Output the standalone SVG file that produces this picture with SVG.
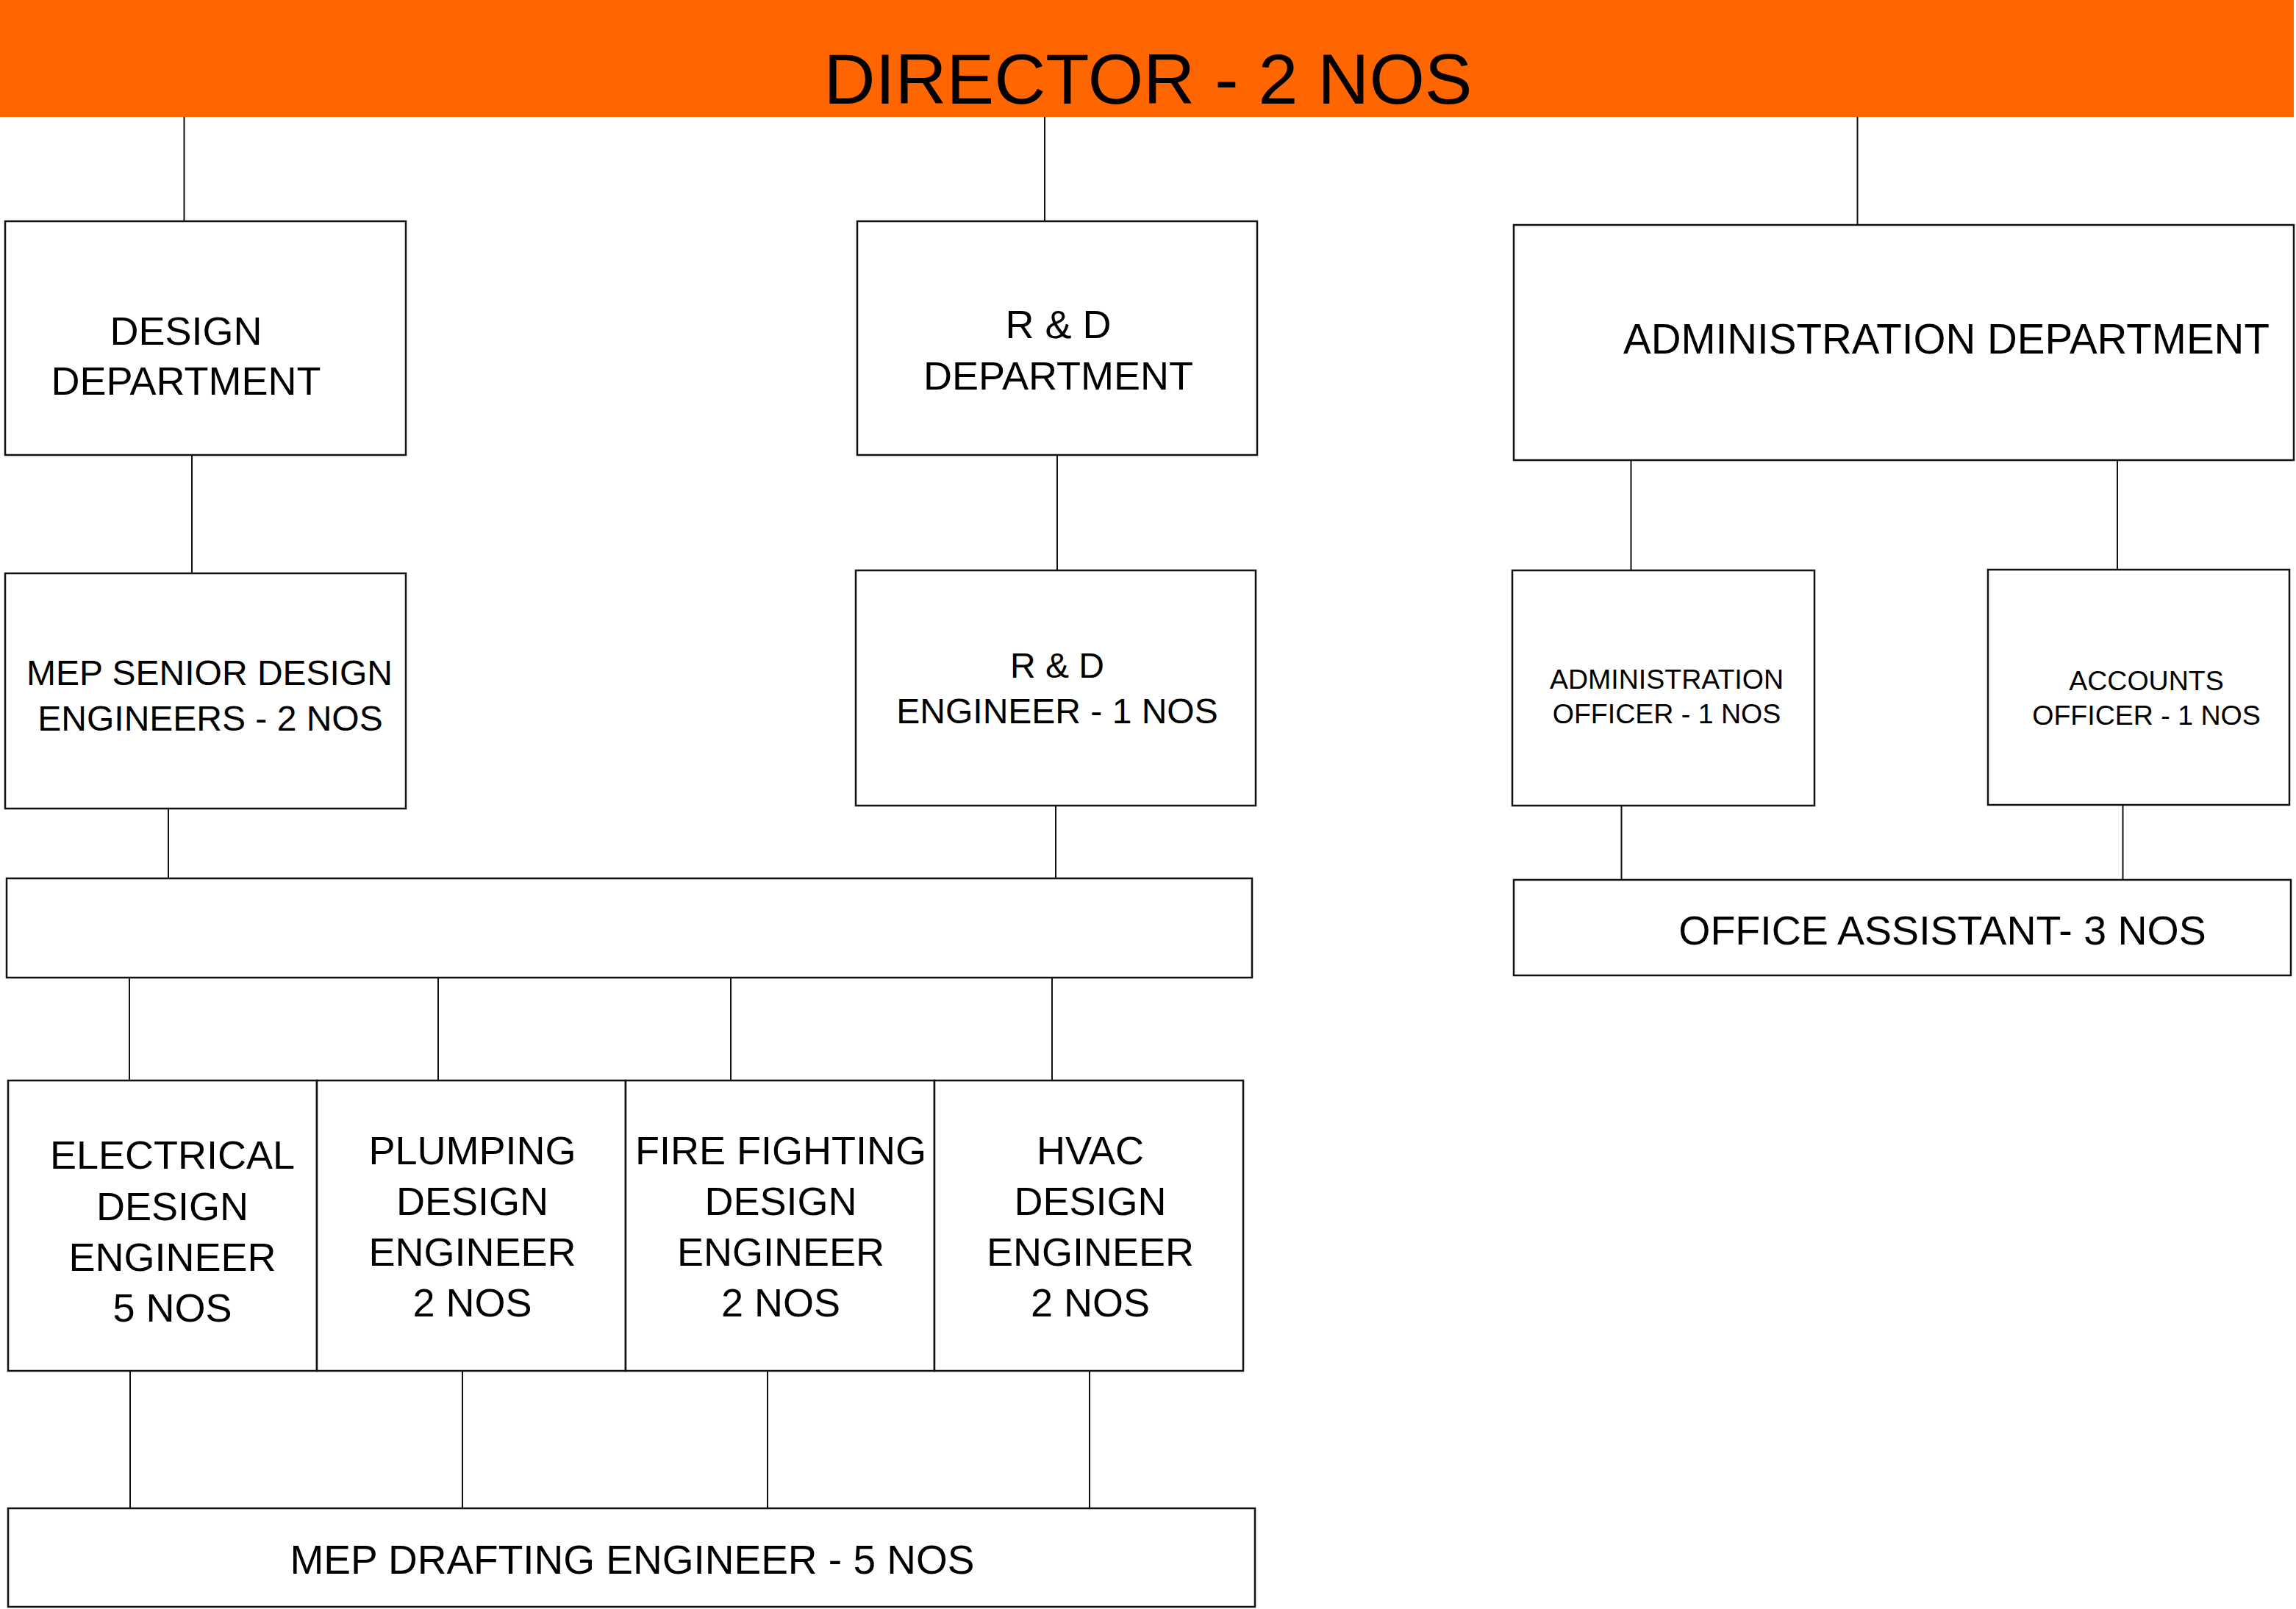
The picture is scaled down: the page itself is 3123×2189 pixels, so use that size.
<svg xmlns="http://www.w3.org/2000/svg" width="3123" height="2189" viewBox="0 0 3123 2189">
<style>
.box{fill:#fff;stroke:#111;stroke-width:2.5}
.ln{stroke:#111;stroke-width:2;fill:none}
text{font-family:"Liberation Sans",Arial,sans-serif;fill:#000;text-anchor:middle}
.t54{font-size:54px}
.t48{font-size:48px}
.t37{font-size:37.5px}
</style>
<rect width="3123" height="2189" fill="#fff"/>
<g id="connectors">
<line class="ln" x1="250.5" y1="159" x2="250.5" y2="301"/>
<line class="ln" x1="1421" y1="159" x2="1421" y2="301"/>
<line class="ln" x1="2526.5" y1="159" x2="2526.5" y2="306"/>
<line class="ln" x1="261" y1="619" x2="261" y2="780"/>
<line class="ln" x1="1438" y1="619" x2="1438" y2="776"/>
<line class="ln" x1="2218.5" y1="626" x2="2218.5" y2="776"/>
<line class="ln" x1="2880" y1="626" x2="2880" y2="775"/>
<line class="ln" x1="229" y1="1100" x2="229" y2="1195"/>
<line class="ln" x1="1436" y1="1096" x2="1436" y2="1195"/>
<line class="ln" x1="2205.5" y1="1096" x2="2205.5" y2="1197"/>
<line class="ln" x1="2887.5" y1="1095" x2="2887.5" y2="1197"/>
<line class="ln" x1="176" y1="1330" x2="176" y2="1470"/>
<line class="ln" x1="596" y1="1330" x2="596" y2="1470"/>
<line class="ln" x1="994" y1="1330" x2="994" y2="1470"/>
<line class="ln" x1="1431" y1="1330" x2="1431" y2="1470"/>
<line class="ln" x1="177" y1="1865" x2="177" y2="2052"/>
<line class="ln" x1="629" y1="1865" x2="629" y2="2052"/>
<line class="ln" x1="1044" y1="1865" x2="1044" y2="2052"/>
<line class="ln" x1="1482" y1="1865" x2="1482" y2="2052"/>
</g>
<g id="director">
<rect x="0" y="0" width="3120" height="159" fill="#FF6600"/>
<text x="1561.5" y="141" style="font-size:97px">DIRECTOR - 2 NOS</text>
</g>
<g id="design-dept">
<rect class="box" x="7" y="301" width="545" height="318"/>
<text class="t54" x="253" y="469">DESIGN</text>
<text class="t54" x="253" y="537">DEPARTMENT</text>
</g>
<g id="rd-dept">
<rect class="box" x="1166" y="301" width="544" height="318"/>
<text class="t54" x="1439.5" y="460">R &amp; D</text>
<text class="t54" x="1439.5" y="530">DEPARTMENT</text>
</g>
<g id="admin-dept">
<rect class="box" x="2059" y="306" width="1061" height="320"/>
<text x="2208" y="481" style="font-size:56.5px;text-anchor:start">ADMINISTRATION DEPARTMENT</text>
</g>
<g id="mep-senior">
<rect class="box" x="7" y="780" width="545" height="320"/>
<text class="t48" x="285" y="932">MEP SENIOR DESIGN</text>
<text class="t48" x="286" y="994">ENGINEERS - 2 NOS</text>
</g>
<g id="rd-engineer">
<rect class="box" x="1164" y="776" width="544" height="320"/>
<text class="t48" x="1438" y="922">R &amp; D</text>
<text class="t48" x="1438" y="984">ENGINEER - 1 NOS</text>
</g>
<g id="admin-officer">
<rect class="box" x="2057" y="776" width="411" height="320"/>
<text class="t37" x="2267" y="937">ADMINISTRATION</text>
<text class="t37" x="2267" y="984">OFFICER - 1 NOS</text>
</g>
<g id="accounts-officer">
<rect class="box" x="2704" y="775" width="410" height="320"/>
<text class="t37" x="2919.5" y="939">ACCOUNTS</text>
<text class="t37" x="2919.5" y="986">OFFICER - 1 NOS</text>
</g>
<g id="junction">
<rect class="box" x="9" y="1195" width="1694" height="135"/>
</g>
<g id="office-assistant">
<rect class="box" x="2059" y="1197" width="1057" height="130"/>
<text x="2642" y="1285" style="font-size:55.5px">OFFICE ASSISTANT- 3 NOS</text>
</g>
<g id="electrical">
<rect class="box" x="11" y="1470" width="420" height="395"/>
<text class="t54" x="234.5" y="1590">ELECTRICAL</text>
<text class="t54" x="234.5" y="1660">DESIGN</text>
<text class="t54" x="234.5" y="1729">ENGINEER</text>
<text class="t54" x="234.5" y="1798">5 NOS</text>
</g>
<g id="plumping">
<rect class="box" x="431" y="1470" width="420" height="395"/>
<text class="t54" x="642.5" y="1584">PLUMPING</text>
<text class="t54" x="642.5" y="1653">DESIGN</text>
<text class="t54" x="642.5" y="1722">ENGINEER</text>
<text class="t54" x="642.5" y="1791">2 NOS</text>
</g>
<g id="fire-fighting">
<rect class="box" x="851" y="1470" width="420" height="395"/>
<text class="t54" x="1062" y="1584">FIRE FIGHTING</text>
<text class="t54" x="1062" y="1653">DESIGN</text>
<text class="t54" x="1062" y="1722">ENGINEER</text>
<text class="t54" x="1062" y="1791">2 NOS</text>
</g>
<g id="hvac">
<rect class="box" x="1271" y="1470" width="420" height="395"/>
<text class="t54" x="1483" y="1584">HVAC</text>
<text class="t54" x="1483" y="1653">DESIGN</text>
<text class="t54" x="1483" y="1722">ENGINEER</text>
<text class="t54" x="1483" y="1791">2 NOS</text>
</g>
<g id="mep-drafting">
<rect class="box" x="11" y="2052" width="1696" height="134"/>
<text x="860" y="2141" style="font-size:55px">MEP DRAFTING ENGINEER - 5 NOS</text>
</g>
</svg>
